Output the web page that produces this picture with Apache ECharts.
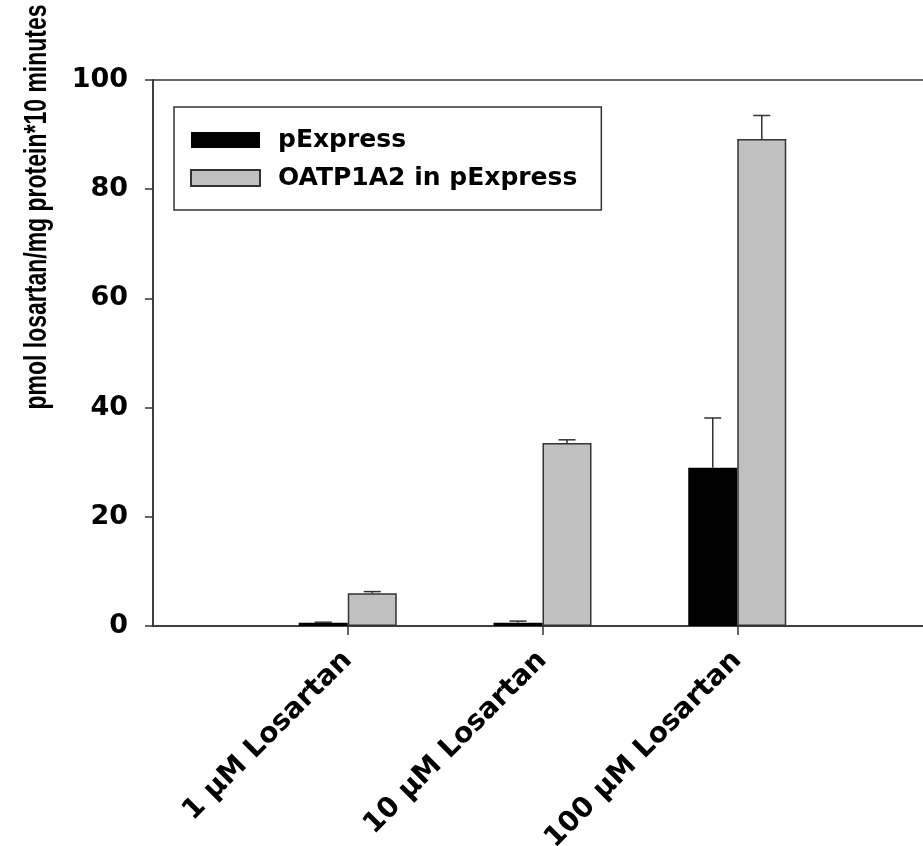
<!DOCTYPE html>
<html>
<head>
<meta charset="utf-8">
<script src="https://cdn.jsdelivr.net/npm/echarts@6/dist/echarts.min.js"></script>
<style>
  html, body { margin: 0; padding: 0; background: #fff; }
  #chart { width: 923px; height: 846px; }
</style>
</head>
<body>
<div id="chart"></div>
<script>
// Losartan uptake (pmol / mg protein per 10 min), mean and SD
const categories = ['1 µM Losartan', '10 µM Losartan', '100 µM Losartan'];
const seriesNames = ['pExpress', 'OATP1A2 in pExpress'];
const pExpress = [0.6, 0.6, 29.0];
const pExpressErr = [0.1, 0.3, 9.1];
const oatp = [6.0, 33.5, 89.2];
const oatpErr = [0.3, 0.6, 4.3];
const yTicks = [0, 20, 40, 60, 80, 100];
const yTitle = 'pmol losartan/mg protein*10 minutes';

const BAR_W = 49;
const LINE = '#333333';
const FONT = 'DejaVu Sans';

// blank slots on either side so the groups sit on ticks 1..3
const axisCats = [''].concat(categories, ['']);
const toPoints = (vals) => vals.map((v, i) => [i + 1, v]);
const toErr = (vals, errs) => vals.map((v, i) => [i + 1, v, errs[i]]);

function errorBars(offset) {
  return function (params, api) {
    const x0 = api.value(0), v = api.value(1), e = api.value(2);
    const base = api.coord([x0, v]);
    const top = api.coord([x0, v + e]);
    const x = base[0] + offset;
    const half = 8.5;
    return {
      type: 'group',
      children: [
        { type: 'line', shape: { x1: x, y1: base[1], x2: x, y2: top[1] },
          style: { stroke: LINE, lineWidth: 1.5 } },
        { type: 'line', shape: { x1: x - half, y1: top[1], x2: x + half, y2: top[1] },
          style: { stroke: LINE, lineWidth: 1.5 } }
      ]
    };
  };
}

const chart = echarts.init(document.getElementById('chart'), null, { renderer: 'canvas' });
chart.setOption({
  animation: false,
  backgroundColor: '#ffffff',
  grid: {
    left: 153, top: 80, width: 779, bottom: 220,
    outerBoundsMode: 'none', containLabel: false,
    show: true, borderColor: LINE, borderWidth: 1.5, backgroundColor: 'transparent'
  },
  legend: {
    data: seriesNames,
    orient: 'vertical',
    left: 174, top: 107,
    padding: [20, 24, 19, 16],
    icon: 'rect',
    itemWidth: 69, itemHeight: 16, itemGap: 12,
    borderColor: LINE, borderWidth: 1.5, backgroundColor: '#fff',
    textStyle: { fontFamily: FONT, fontWeight: 'bold', fontSize: 25, color: '#000',
                 lineHeight: 26, padding: [0, 0, 0, 13] }
  },
  xAxis: {
    type: 'category',
    data: axisCats,
    boundaryGap: false,
    axisLine: { show: true, lineStyle: { color: LINE, width: 1.5 } },
    axisTick: { show: true, length: 9, lineStyle: { color: LINE, width: 1.5 },
                interval: (idx, val) => val !== '' },
    axisLabel: { interval: 0, rotate: 45, margin: 30, color: '#000',
                 fontFamily: FONT, fontWeight: 'bold', fontSize: 28 },
    splitLine: { show: false }
  },
  yAxis: {
    type: 'value',
    min: yTicks[0], max: yTicks[yTicks.length - 1], interval: yTicks[1] - yTicks[0],
    axisLine: { show: true, lineStyle: { color: LINE, width: 1.5 } },
    axisTick: { show: true, inside: false, length: 8, lineStyle: { color: LINE, width: 1.5 } },
    axisLabel: { margin: 25, color: '#000', fontFamily: FONT, fontWeight: 'bold', fontSize: 27 },
    splitLine: { show: false }
  },
  graphic: [{
    type: 'text',
    x: 37, y: 207,
    rotation: Math.PI / 2,
    scaleY: 1.35,
    style: {
      text: yTitle,
      fontFamily: 'Liberation Sans', fontWeight: 'bold', fontSize: 23,
      fill: '#000', align: 'center', verticalAlign: 'middle'
    }
  }],
  series: [
    {
      name: seriesNames[0], type: 'bar', data: toPoints(pExpress),
      barWidth: BAR_W, barGap: '0%',
      itemStyle: { color: '#000000', borderColor: '#000000', borderWidth: 0 }
    },
    {
      name: seriesNames[1], type: 'bar', data: toPoints(oatp),
      barWidth: BAR_W, barGap: '0%',
      itemStyle: { color: '#c0c0c0', borderColor: LINE, borderWidth: 1.5 }
    },
    {
      name: 'pExpress SD', type: 'custom', z: 5,
      renderItem: errorBars(-BAR_W / 2),
      data: toErr(pExpress, pExpressErr)
    },
    {
      name: 'OATP1A2 SD', type: 'custom', z: 5,
      renderItem: errorBars(BAR_W / 2),
      data: toErr(oatp, oatpErr)
    }
  ]
});
</script>
</body>
</html>
